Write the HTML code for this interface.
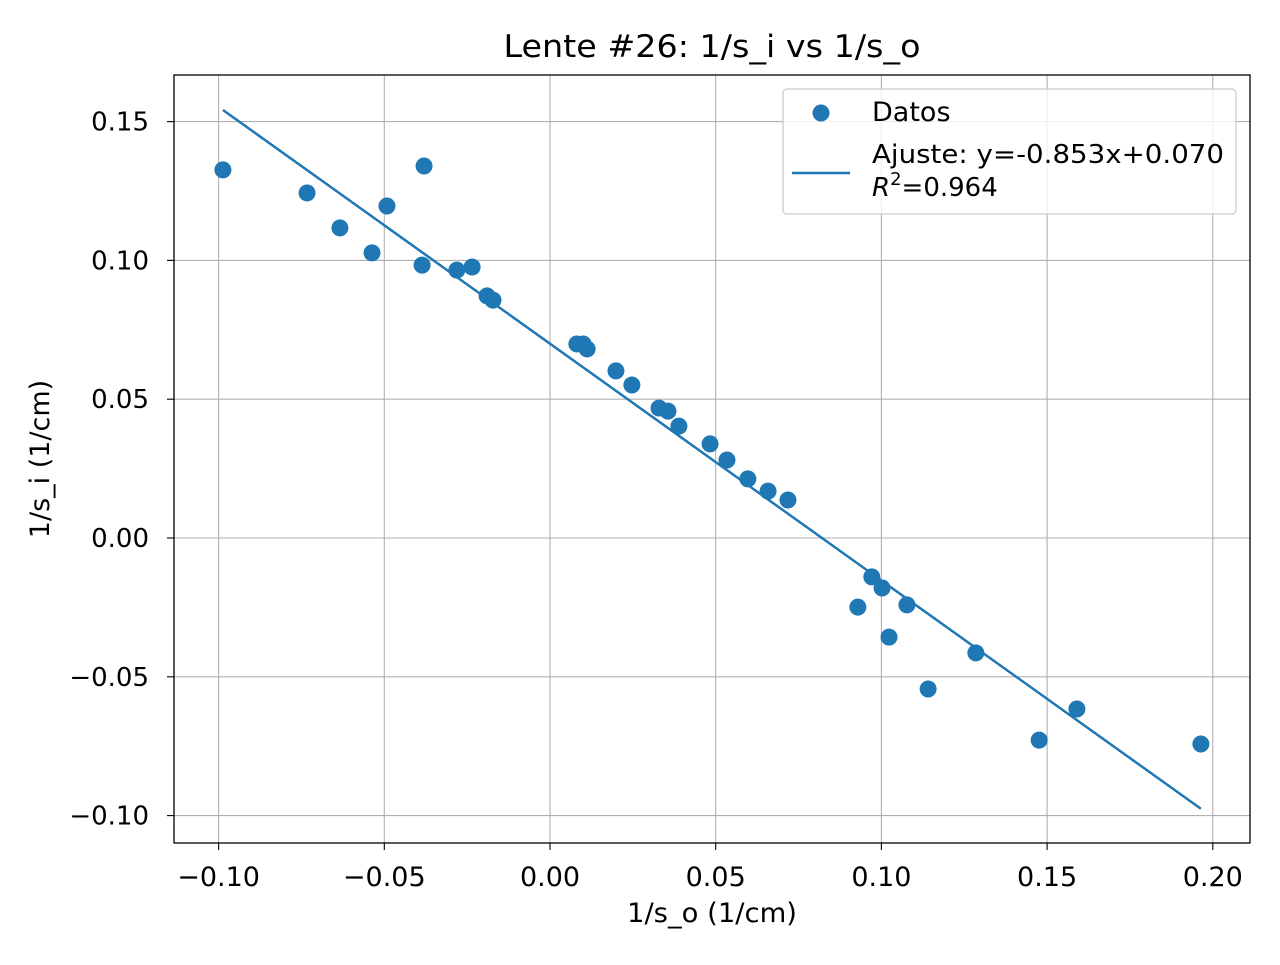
<!DOCTYPE html>
<html><head><meta charset="utf-8"><style>
body{margin:0;background:#fff;}
svg text{font-family:"DejaVu Sans","Liberation Sans",sans-serif;fill:#000;}
</style></head><body>
<svg id="chart" width="1280" height="960">
<rect width="1280" height="960" fill="#fff"/>
<g id="grid"></g>
<g id="ticks"></g>
<g id="marks"></g>
<rect x="174" y="75" width="1076" height="768" fill="none" stroke="#000" stroke-width="1.3"/>
<text x="712" y="57" font-size="31" text-anchor="middle" textLength="417" lengthAdjust="spacingAndGlyphs">Lente #26: 1/s_i vs 1/s_o</text>
<text x="712" y="922" font-size="27" text-anchor="middle" textLength="170" lengthAdjust="spacingAndGlyphs">1/s_o (1/cm)</text>
<text x="49" y="459" font-size="27" text-anchor="middle" transform="rotate(-90 49 459)">1/s_i (1/cm)</text>
<g>
<rect x="783" y="89" width="453" height="125" rx="4" fill="#fff" fill-opacity="0.8" stroke="#ccc" stroke-width="1.3"/>
<circle cx="821" cy="113" r="8.5" fill="#1f77b4"/>
<text x="872" y="121" font-size="27">Datos</text>
<line x1="792" y1="173" x2="850" y2="173" stroke="#1f77b4" stroke-width="2.5"/>
<text x="872" y="163" font-size="26" textLength="352" lengthAdjust="spacingAndGlyphs">Ajuste: y=-0.853x+0.070</text>
<text x="872" y="196" font-size="26"><tspan font-style="italic">R</tspan><tspan font-size="18" dy="-11">2</tspan><tspan dy="11">=0.964</tspan></text>
</g>
</svg>
<script>
const xs=[-0.0987,-0.0733,-0.0634,-0.0537,-0.0492,-0.0386,-0.0380,-0.0281,-0.0235,-0.0190,-0.0172,0.0081,0.0100,0.0112,0.0199,0.0247,0.0329,0.0356,0.0389,0.0483,0.0534,0.0597,0.0658,0.0718,0.0929,0.0971,0.1002,0.1023,0.1077,0.1141,0.1285,0.1476,0.1590,0.1964];
const ys=[0.1326,0.1243,0.1117,0.1027,0.1196,0.0983,0.1340,0.0965,0.0976,0.0872,0.0857,0.0699,0.0699,0.0681,0.0602,0.0551,0.0468,0.0457,0.0403,0.0339,0.0281,0.0213,0.0169,0.0137,-0.0249,-0.0140,-0.0180,-0.0357,-0.0241,-0.0544,-0.0414,-0.0728,-0.0616,-0.0742];
const slope=-0.853, intercept=0.070;
const xTicks=[-0.10,-0.05,0.00,0.05,0.10,0.15,0.20];
const yTicks=[-0.10,-0.05,0.00,0.05,0.10,0.15];
const X=v=>550+v*3314, Y=v=>538-v*2776;
const NS="http://www.w3.org/2000/svg";
function mk(parent,tag,attrs){const e=document.createElementNS(NS,tag);for(const k in attrs)e.setAttribute(k,attrs[k]);document.getElementById(parent).appendChild(e);return e;}
const fmt=v=>(v<0?"\u2212":"")+Math.abs(v).toFixed(2);
xTicks.forEach(t=>{
 const g=mk('grid','line',{x1:X(t),x2:X(t),y1:75,y2:843,stroke:'#b0b0b0','stroke-width':1.1});
 
 
 const tk=mk('ticks','line',{x1:X(t),x2:X(t),y1:843,y2:850,stroke:'#000','stroke-width':1.1});
 
 
 const l=mk('ticks','text',{x:X(t),y:886,'font-size':27,'text-anchor':'middle'});l.textContent=fmt(t);
 
 
});
yTicks.forEach(t=>{
 const g=mk('grid','line',{x1:174,x2:1250,y1:Y(t),y2:Y(t),stroke:'#b0b0b0','stroke-width':1.1});
 
 
 const tk=mk('ticks','line',{x1:167,x2:174,y1:Y(t),y2:Y(t),stroke:'#000','stroke-width':1.1});
 
 
 const l=mk('ticks','text',{x:149,y:Y(t)+9,'font-size':26,'text-anchor':'end'});l.textContent=fmt(t);
 
 
});
xs.forEach((x,i)=>{
 const c=mk('marks','circle',{cx:X(x),cy:Y(ys[i]),r:8.5,fill:'#1f77b4'});
 
 
});
const x0=Math.min(...xs),x1=Math.max(...xs);
const ln=mk('marks','line',{x1:X(x0),y1:Y(slope*x0+intercept),x2:X(x1),y2:Y(slope*x1+intercept),stroke:'#1f77b4','stroke-width':2.5});


</script>
</body></html>
